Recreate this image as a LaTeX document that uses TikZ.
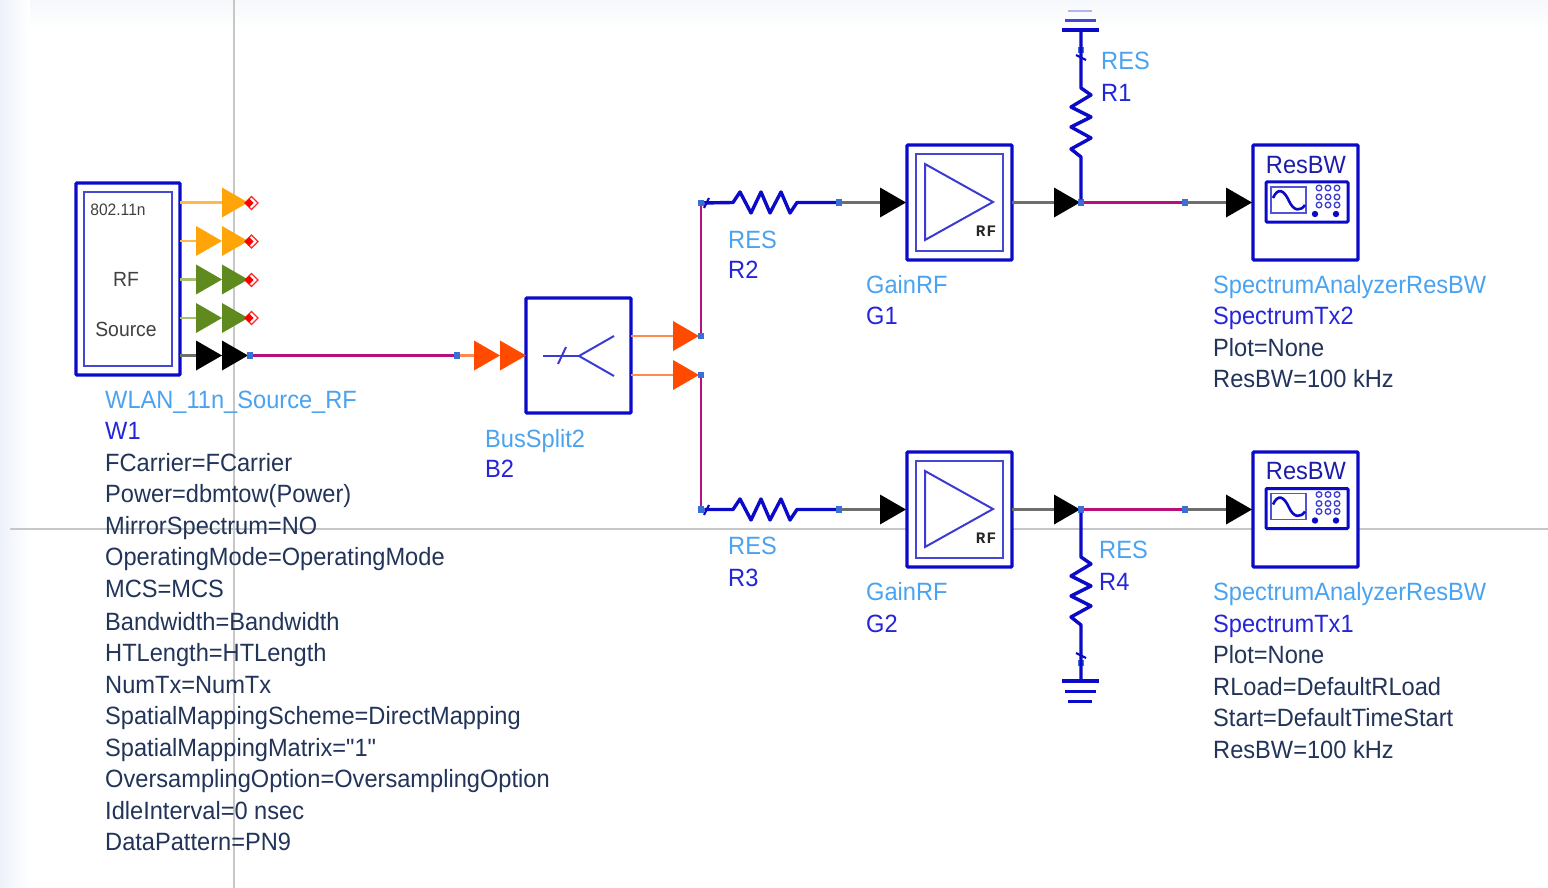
\documentclass[tikz,border=0pt]{standalone}
\usepackage{fontspec}
\setmainfont[FakeStretch=0.945,Ligatures=TeXOff]{Liberation Sans}
\newfontfamily\rfmono{Liberation Mono Bold}
\usetikzlibrary{shadings}
\definecolor{bblue}{HTML}{0A0AC8}
\definecolor{lblue}{HTML}{4AA3F0}
\definecolor{dblue}{HTML}{2424D8}
\definecolor{ptxt}{HTML}{22345A}
\definecolor{mag}{HTML}{B8107A}
\definecolor{pinb}{HTML}{3A6FD8}
\definecolor{tor}{HTML}{FFA50A}
\definecolor{tgr}{HTML}{5E8A1E}
\definecolor{trd}{HTML}{FF4A00}
\definecolor{wor}{HTML}{FFB84A}
\definecolor{wgr}{HTML}{A5C070}
\definecolor{wrd}{HTML}{FF8A50}
\definecolor{wgy}{HTML}{6E6E6E}
\definecolor{pgl}{HTML}{EDF2FA}
\definecolor{pgt}{HTML}{F6F8FB}
\tikzset{
  outerbox/.style={draw=bblue,line width=3.4pt,fill=white,inner sep=0pt,outer sep=0pt,rounded corners=1pt},
  innerbox/.style={draw=bblue!75,line width=1.7pt,inner sep=0pt,outer sep=0pt},
  pinnode/.style={fill=pinb,inner sep=0pt,outer sep=0pt,minimum size=6.5pt},
  bus/.style={draw=mag,line width=2.9pt},
  res/.style={draw=bblue,line width=3.4pt,line join=round},
  wireor/.style={draw=wor,line width=2.8pt},
  wiregr/.style={draw=wgr,line width=2.8pt},
  wirerd/.style={draw=wrd,line width=2.8pt},
  wiregy/.style={draw=wgy,line width=2.4pt},
  sym/.style={draw=bblue!80,line width=2pt},
  txt/.style={anchor=base west,inner sep=0pt,font=\fontsize{25}{30}\selectfont},
}
\newcommand{\ptri}[4]{%
  \coordinate (#1) at (#2,#3);
  \coordinate (#1b) at (#2-26,#3);
  \fill[#4] (#2,#3) -- (#2-26,#3-15) -- (#2-26,#3+15) -- cycle;}
\newcommand{\lbl}[5]{\node[txt,text=#4] (#1) at (#2,#3+8) {#5};}
\newcommand{\rmark}[2]{%
  \draw[red!85,line width=1.1pt,fill=white] (#1-6.5,#2) -- (#1,#2-6.5) -- (#1+6.5,#2) -- (#1,#2+6.5) -- cycle;
  \fill[red] (#1-7,#2) -- (#1-2.5,#2-4.5) -- (#1+2,#2) -- (#1-2.5,#2+4.5) -- cycle;}
\newcommand{\scopeicon}[2]{%
  \begin{scope}[shift={(#1,#2)}]
    \draw[draw=bblue,line width=3pt,rounded corners=1pt] (1266,182) rectangle (1348,222);
    \draw[draw=bblue!70,line width=1.5pt] (1271,187) rectangle (1306,213);
    \draw[draw=bblue,line width=2.6pt] (1273,198) .. controls (1278,187) and (1284,190) .. (1289,201) .. controls (1294,212) and (1301,211) .. (1305,205);
    \foreach \xx in {1319,1328,1337}{\foreach \yy in {188,197,205}{
      \draw[draw=bblue!80,line width=1.3pt] (\xx,\yy) circle (2.8pt);}}
    \fill[bblue] (1315,214) circle (3.2pt);
    \fill[bblue] (1336,214) circle (3.2pt);
  \end{scope}}
\begin{document}
\begin{tikzpicture}[x=1pt,y=-1pt]
\useasboundingbox (0,0) rectangle (1548,888);
% page
\fill[white] (0,0) rectangle (1548,888);
\shade[left color=pgl,right color=white] (0,0) rectangle (30,888);
\shade[top color=pgt,bottom color=white] (30,0) rectangle (1548,30);
\draw[black!22,line width=1.2pt] (234,0) -- (234,888);
\draw[black!22,line width=1.2pt] (10,529) -- (1548,529);

% ---------- source
\node[outerbox,minimum width=104pt,minimum height=192pt] (src) at (128,279) {};
\node[innerbox,minimum width=88pt,minimum height=174pt] (srcin) at (128,279) {};
\node[anchor=center,inner sep=0pt,font=\fontsize{16.5}{18}\selectfont,text=black!75] (srct1) at (118,210) {802.11n};
\node[anchor=center,inner sep=0pt,font=\fontsize{20.5}{22}\selectfont,text=black!75] (srct2) at (126,279) {RF};
\node[anchor=center,inner sep=0pt,font=\fontsize{20.5}{22}\selectfont,text=black!75] (srct3) at (126,329) {Source};
\coordinate (sa) at (180,202.5);
\coordinate (sb) at (180,241);
\coordinate (sc) at (180,279.5);
\coordinate (sd) at (180,318);
\coordinate (se) at (180,355.5);
\draw[wireor] (sa) -- (222,202.5);
\draw[wireor] (sb) -- (196,241);
\draw[wiregr] (sc) -- (196,279.5);
\draw[wiregr] (sd) -- (196,318);
\draw[wiregy] (se) -- (196,355.5);
\ptri{ta}{248}{202.5}{tor}
\ptri{tb2}{248}{241}{tor}
\ptri{tb1}{222}{241}{tor}
\ptri{tc2}{248}{279.5}{tgr}
\ptri{tc1}{222}{279.5}{tgr}
\ptri{td2}{248}{318}{tgr}
\ptri{td1}{222}{318}{tgr}
\ptri{te2}{248}{355.5}{black}
\ptri{te1}{222}{355.5}{black}
\rmark{251.5}{203}
\rmark{251.5}{241.5}
\rmark{251.5}{280}
\rmark{251.5}{318}

% ---------- bus to splitter
\node[pinnode] (p1) at (250,355.5) {};
\node[pinnode] (p2) at (457,355.5) {};
\draw[bus] (p1) -- (p2);
\node[outerbox,minimum width=105pt,minimum height=115pt] (split) at (578.5,355.5) {};
\ptri{tf2}{526}{355.5}{trd}
\ptri{tf1}{500}{355.5}{trd}
\draw[wirerd] (p2) -- (tf1b);
\draw[sym] (543,356) -- (579,356);
\draw[sym] (558,364) -- (566,347);
\draw[sym] (614,336) -- (579,356) -- (614,376);
\ptri{tg}{699}{336}{trd}
\ptri{th}{699}{375}{trd}
\coordinate (so1) at (631,336);
\coordinate (so2) at (631,375);
\draw[wirerd] (so1) -- (tgb);
\draw[wirerd] (so2) -- (thb);
\node[pinnode] (p3) at (701,336) {};
\node[pinnode] (p4) at (701,375) {};
\node[pinnode] (p5) at (701,203) {};
\node[pinnode] (p6) at (701,509.5) {};
\draw[bus] (p3) -- (p5);
\draw[bus] (p4) -- (p6);

% ---------- upper branch
\node[pinnode] (p7) at (839,202.5) {};
\draw[res] (p5) -- (733,202.5) -- (740,192) -- (751,213) -- (761,192) -- (770,213) -- (781,192) -- (790,213) -- (797,202.5) -- (p7);
\draw[res,line width=2.2pt] (704,208) -- (709,198);
\node[outerbox,minimum width=105pt,minimum height=115pt] (g1) at (959.5,202.5) {};
\node[innerbox,minimum width=87pt,minimum height=97pt] (g1in) at (959.5,202.5) {};
\draw[sym] (925,164) -- (993,202) -- (925,240) -- cycle;
\node[inner sep=0pt,font=\rfmono\fontsize{16}{18}\selectfont,text=black!85] (g1rf) at (986,231) {R\kern1pt F};
\ptri{ti}{906}{202.5}{black}
\draw[wiregy] (p7) -- (tib);
\ptri{tj}{1080}{202.5}{black}
\draw[wiregy] (g1.east) -- (tjb);
\node[pinnode] (p8) at (1081,202.5) {};
\node[pinnode] (p9) at (1185,202.5) {};
\draw[bus] (p8) -- (p9);
\node[outerbox,minimum width=105pt,minimum height=115pt] (s2) at (1305.5,202.5) {};
\ptri{tk}{1252}{202.5}{black}
\draw[wiregy] (p9) -- (tkb);
\node[inner sep=0pt,font=\fontsize{25}{30}\selectfont,text=dblue!80!black] (s2t) at (1306,165) {ResBW};
\scopeicon{0}{0}
% R1 and ground
\coordinate (gnd1) at (1081,30);
\node[pinnode,minimum size=5.5pt] (p10) at (1081,50) {};
\draw[res] (p8) -- (1081,157) -- (1071,149) -- (1091,138) -- (1071,127) -- (1091,117) -- (1071,107) -- (1091,95) -- (1081,88) -- (gnd1);
\draw[res,line width=2.2pt] (1076,55) -- (1086,60);
\draw[res] (1062,30) -- (1099,30);
\draw[res,draw=bblue!75,line width=3pt] (1065,20.5) -- (1096,20.5);
\draw[res,draw=bblue!30,line width=2.8pt] (1068,11) -- (1092,11);

% ---------- lower branch
\node[pinnode] (p11) at (839,509.5) {};
\draw[res] (p6) -- (733,509.5) -- (740,499) -- (751,520) -- (761,499) -- (770,520) -- (781,499) -- (790,520) -- (797,509.5) -- (p11);
\draw[res,line width=2.2pt] (704,515) -- (709,505);
\node[outerbox,minimum width=105pt,minimum height=115pt] (g2) at (959.5,509.5) {};
\node[innerbox,minimum width=87pt,minimum height=97pt] (g2in) at (959.5,509.5) {};
\draw[sym] (925,471) -- (993,509) -- (925,547) -- cycle;
\node[inner sep=0pt,font=\rfmono\fontsize{16}{18}\selectfont,text=black!85] (g2rf) at (986,538) {R\kern1pt F};
\ptri{tl}{906}{509.5}{black}
\draw[wiregy] (p11) -- (tlb);
\ptri{tm}{1080}{509.5}{black}
\draw[wiregy] (g2.east) -- (tmb);
\node[pinnode] (p12) at (1081,509.5) {};
\node[pinnode] (p13) at (1185,509.5) {};
\draw[bus] (p12) -- (p13);
\node[outerbox,minimum width=105pt,minimum height=115pt] (s1) at (1305.5,509.5) {};
\ptri{tn}{1252}{509.5}{black}
\draw[wiregy] (p13) -- (tnb);
\node[inner sep=0pt,font=\fontsize{25}{30}\selectfont,text=dblue!80!black] (s1t) at (1306,471) {ResBW};
\scopeicon{0}{306.5}
% R4 and ground
\coordinate (gnd2) at (1081,681);
\node[pinnode,minimum size=5.5pt] (p14) at (1081,663) {};
\draw[res] (p12) -- (1081,557) -- (1091,564) -- (1071,576) -- (1091,586) -- (1071,596) -- (1091,606) -- (1071,617) -- (1081,625) -- (gnd2);
\draw[res,line width=2.2pt] (1076,653) -- (1086,658);
\draw[res] (1062,681) -- (1099,681);
\draw[res,line width=3pt] (1065,691) -- (1096,691);
\draw[res,line width=3pt] (1068,701) -- (1092,701);

% ---------- labels
\lbl{l1}{105}{400}{lblue}{WLAN\_11n\_Source\_RF}
\lbl{l2}{105}{431}{dblue}{W1}
\lbl{l3}{105}{463}{ptxt}{FCarrier=FCarrier}
\lbl{l4}{105}{494}{ptxt}{Power=dbmtow(Power)}
\lbl{l5}{105}{526}{ptxt}{MirrorSpectrum=NO}
\lbl{l6}{105}{557}{ptxt}{OperatingMode=OperatingMode}
\lbl{l7}{105}{589}{ptxt}{MCS=MCS}
\lbl{l8}{105}{622}{ptxt}{Bandwidth=Bandwidth}
\lbl{l9}{105}{653}{ptxt}{HTLength=HTLength}
\lbl{l10}{105}{685}{ptxt}{NumTx=NumTx}
\lbl{l11}{105}{716}{ptxt}{SpatialMappingScheme=DirectMapping}
\lbl{l12}{105}{748}{ptxt}{SpatialMappingMatrix="1"}
\lbl{l13}{105}{779}{ptxt}{OversamplingOption=OversamplingOption}
\lbl{l14}{105}{811}{ptxt}{IdleInterval=0 nsec}
\lbl{l15}{105}{842}{ptxt}{DataPattern=PN9}
\lbl{b1}{485}{439}{lblue}{BusSplit2}
\lbl{b2}{485}{469}{dblue}{B2}
\lbl{r2a}{728}{240}{lblue}{RES}
\lbl{r2b}{728}{270}{dblue}{R2}
\lbl{r3a}{728}{546}{lblue}{RES}
\lbl{r3b}{728}{578}{dblue}{R3}
\lbl{r1a}{1101}{62}{lblue}{RES}
\lbl{r1b}{1101}{94}{dblue}{R1}
\lbl{r4a}{1099}{550}{lblue}{RES}
\lbl{r4b}{1099}{582}{dblue}{R4}
\lbl{g1a}{866}{285}{lblue}{GainRF}
\lbl{g1b}{866}{316}{dblue}{G1}
\lbl{g2a}{866}{592}{lblue}{GainRF}
\lbl{g2b}{866}{624}{dblue}{G2}
\lbl{u1}{1213}{285}{lblue}{SpectrumAnalyzerResBW}
\lbl{u2}{1213}{316}{dblue}{SpectrumTx2}
\lbl{u3}{1213}{348}{ptxt}{Plot=None}
\lbl{u4}{1213}{379}{ptxt}{ResBW=100 kHz}
\lbl{v1}{1213}{592}{lblue}{SpectrumAnalyzerResBW}
\lbl{v2}{1213}{624}{dblue}{SpectrumTx1}
\lbl{v3}{1213}{655}{ptxt}{Plot=None}
\lbl{v4}{1213}{687}{ptxt}{RLoad=DefaultRLoad}
\lbl{v5}{1213}{718}{ptxt}{Start=DefaultTimeStart}
\lbl{v6}{1213}{750}{ptxt}{ResBW=100 kHz}
\end{tikzpicture}
\end{document}
